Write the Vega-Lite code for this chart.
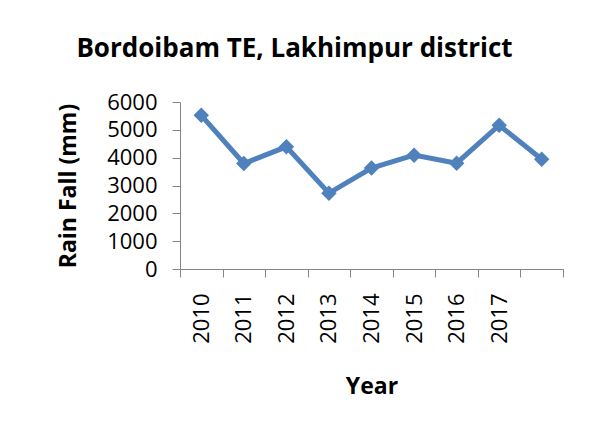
{
  "$schema": "https://vega.github.io/schema/vega-lite/v6.json",
  "width": 383,
  "height": 167,
  "autosize": "none",
  "padding": {"left": 180, "top": 102, "right": 27, "bottom": 160},
  "background": "white",
  "config": {"view": {"stroke": null}, "font": "Open Sans"},
  "title": {
    "text": "Bordoibam TE, Lakhimpur district",
    "font": "Open Sans",
    "fontSize": 26,
    "fontWeight": "bold",
    "color": "black",
    "anchor": "middle",
    "frame": "group",
    "baseline": "alphabetic",
    "dx": -77,
    "offset": 8
  },
  "data": {
    "values": [
      {"year": "2010", "rain": 5520},
      {"year": "2011", "rain": 3790},
      {"year": "2012", "rain": 4390},
      {"year": "2013", "rain": 2725},
      {"year": "2014", "rain": 3625},
      {"year": "2015", "rain": 4090},
      {"year": "2016", "rain": 3800},
      {"year": "2017", "rain": 5165},
      {"year": "2018", "rain": 3945}
    ]
  },
  "encoding": {
    "x": {
      "field": "year",
      "type": "ordinal",
      "scale": {"type": "band", "paddingInner": 0, "paddingOuter": 0},
      "axis": {
        "title": "Year",
        "titleFont": "Open Sans",
        "titleFontSize": 23,
        "titleFontWeight": "bold",
        "titleColor": "black",
        "titlePadding": 32,
        "labelExpr": "datum.value == '2018' ? '' : datum.value",
        "labelAngle": 270,
        "labelAlign": "right",
        "labelBaseline": "middle",
        "labelFont": "Open Sans",
        "labelFontSize": 22,
        "labelColor": "black",
        "labelPadding": 16,
        "tickBand": "extent",
        "tickSize": 8,
        "tickColor": "#868686",
        "domainColor": "#868686",
        "grid": false
      }
    },
    "y": {
      "field": "rain",
      "type": "quantitative",
      "scale": {"domain": [0, 6000]},
      "axis": {
        "title": "Rain Fall (mm)",
        "titleFont": "Open Sans",
        "titleFontSize": 23,
        "titleFontWeight": "bold",
        "titleColor": "black",
        "titlePadding": 26,
        "values": [0, 1000, 2000, 3000, 4000, 5000, 6000],
        "format": "d",
        "labelFont": "Open Sans",
        "labelFontSize": 22,
        "labelColor": "black",
        "labelPadding": 15,
        "tickSize": 8,
        "tickColor": "#868686",
        "domainColor": "#868686",
        "grid": false
      }
    }
  },
  "layer": [
    {"mark": {"type": "line", "color": "#4F81BD", "strokeWidth": 5}},
    {"mark": {"type": "point", "shape": "diamond", "filled": true, "opacity": 1, "color": "#4F81BD", "size": 240}}
  ]
}
